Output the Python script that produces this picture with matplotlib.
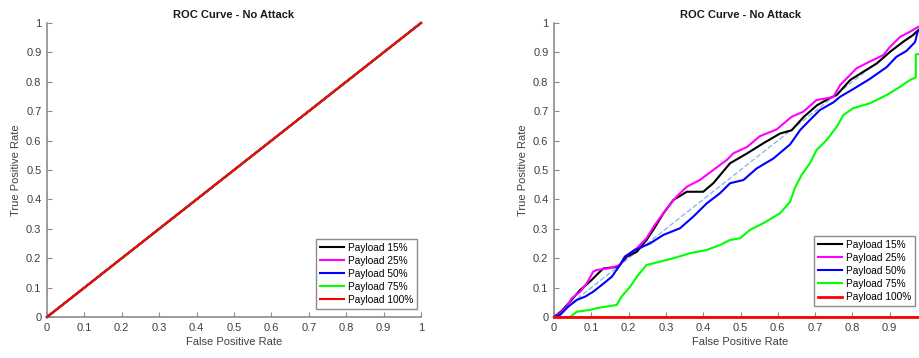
import matplotlib
matplotlib.use("Agg")
import matplotlib.pyplot as plt

plt.rcParams["font.family"] = ["Liberation Sans", "DejaVu Sans"]

labels = ["Payload 15%", "Payload 25%", "Payload 50%", "Payload 75%", "Payload 100%"]
colors = ["black", "#ff00ff", "#0000ff", "#00ff00", "#ff0000"]

# left panel: every curve lies on the diagonal
left_fpr = [0, 1]
left_tpr = [0, 1]

# right panel
fpr_15 = [0, 0.02, 0.043, 0.07, 0.096, 0.119, 0.132, 0.172, 0.195, 0.222, 0.248, 0.266,
          0.293, 0.32, 0.356, 0.4, 0.427, 0.472, 0.517, 0.56, 0.606, 0.637, 0.669, 0.705,
          0.74, 0.758, 0.794, 0.829, 0.865, 0.901, 0.936, 0.963, 0.977, 1]
tpr_15 = [0, 0.02, 0.052, 0.092, 0.12, 0.149, 0.165, 0.171, 0.205, 0.222, 0.262, 0.296,
          0.352, 0.398, 0.426, 0.426, 0.455, 0.523, 0.556, 0.59, 0.624, 0.635, 0.68, 0.72,
          0.745, 0.755, 0.806, 0.834, 0.862, 0.902, 0.936, 0.959, 0.976, 1]

fpr_25 = [0, 0.016, 0.034, 0.047, 0.07, 0.088, 0.105, 0.114, 0.15, 0.177, 0.19, 0.222,
          0.248, 0.27, 0.302, 0.329, 0.356, 0.391, 0.427, 0.463, 0.481, 0.517, 0.552,
          0.597, 0.637, 0.668, 0.704, 0.749, 0.767, 0.789, 0.811, 0.847, 0.883, 0.901,
          0.928, 0.954, 0.977, 1]
tpr_25 = [0, 0.012, 0.035, 0.063, 0.086, 0.115, 0.154, 0.16, 0.166, 0.177, 0.205, 0.234,
          0.268, 0.313, 0.369, 0.41, 0.443, 0.466, 0.5, 0.534, 0.557, 0.578, 0.615,
          0.638, 0.681, 0.698, 0.738, 0.748, 0.789, 0.817, 0.846, 0.869, 0.891, 0.919,
          0.953, 0.97, 0.987, 1]

fpr_50 = [0, 0.016, 0.038, 0.061, 0.083, 0.105, 0.128, 0.155, 0.177, 0.19, 0.217, 0.257,
          0.293, 0.338, 0.373, 0.41, 0.445, 0.472, 0.508, 0.543, 0.588, 0.633, 0.66,
          0.686, 0.713, 0.749, 0.767, 0.802, 0.847, 0.892, 0.918, 0.945, 0.968, 0.975, 1]
tpr_50 = [0, 0.007, 0.035, 0.058, 0.069, 0.086, 0.109, 0.137, 0.177, 0.205, 0.228, 0.25,
          0.279, 0.302, 0.341, 0.387, 0.421, 0.455, 0.466, 0.505, 0.539, 0.587, 0.636,
          0.67, 0.704, 0.73, 0.749, 0.775, 0.81, 0.85, 0.885, 0.905, 0.935, 0.97, 1]

fpr_75 = [0, 0.043, 0.061, 0.096, 0.114, 0.168, 0.181, 0.204, 0.222, 0.248, 0.284, 0.32,
          0.365, 0.409, 0.445, 0.472, 0.499, 0.525, 0.561, 0.606, 0.633, 0.646, 0.664,
          0.686, 0.704, 0.731, 0.758, 0.776, 0.802, 0.847, 0.892, 0.928, 0.954, 0.97,
          0.97, 0.985, 1]
tpr_75 = [0, 0, 0.018, 0.024, 0.03, 0.041, 0.069, 0.103, 0.137, 0.177, 0.188, 0.2,
          0.217, 0.228, 0.245, 0.262, 0.268, 0.296, 0.319, 0.353, 0.392, 0.44, 0.483,
          0.523, 0.568, 0.602, 0.647, 0.687, 0.71, 0.727, 0.755, 0.783, 0.806, 0.815,
          0.893, 0.895, 1]

fpr_100 = [0, 1]
tpr_100 = [0, 0]

right_fpr = [fpr_15, fpr_25, fpr_50, fpr_75, fpr_100]
right_tpr = [tpr_15, tpr_25, tpr_50, tpr_75, tpr_100]

ticks = [0, 0.1, 0.2, 0.3, 0.4, 0.5, 0.6, 0.7, 0.8, 0.9, 1]
tick_labels = ["0", "0.1", "0.2", "0.3", "0.4", "0.5", "0.6", "0.7", "0.8", "0.9", "1"]

fig = plt.figure(figsize=(9.2, 3.58), dpi=100)
ax1 = fig.add_axes([0.0511, 0.1145, 0.4065, 0.8213])
ax2 = fig.add_axes([0.6022, 0.1145, 0.4054, 0.8213])


def style(ax, legend_anchor, xlabels):
    ax.set_xlim(0, 1)
    ax.set_ylim(0, 1)
    ax.set_xticks(ticks)
    ax.set_xticklabels(xlabels)
    ax.set_yticks(ticks)
    ax.set_yticklabels(tick_labels)
    for side in ["top", "right"]:
        ax.spines[side].set_visible(False)
    for side in ["left", "bottom"]:
        ax.spines[side].set_color("#8c8c8c")
        ax.spines[side].set_linewidth(1.2)
    ax.tick_params(direction="in", length=3.5, width=0.8, color="#8c8c8c",
                   labelsize=8, labelcolor="#404040", pad=4)
    ax.set_title("ROC Curve - No Attack", fontsize=8, fontweight="bold",
                 color="#1a1a1a", pad=3.5)
    ax.set_xlabel("False Positive Rate", fontsize=8, color="#404040", labelpad=3)
    ax.set_ylabel("True Positive Rate", fontsize=8, color="#404040", labelpad=4)
    leg = ax.legend(loc="lower right", bbox_to_anchor=legend_anchor, fontsize=7.3,
                    frameon=True, fancybox=False, framealpha=1, borderaxespad=0,
                    handlelength=2.3, handletextpad=0.4, labelspacing=0.3,
                    borderpad=0.4)
    leg.get_frame().set_edgecolor("#8c8c8c")
    leg.get_frame().set_linewidth(1)


for lab, col in zip(labels, colors):
    ax1.plot(left_fpr, left_tpr, color=col, linewidth=1.5, label=lab,
             zorder=3, clip_on=False)
style(ax1, (0.989, 0.027), tick_labels)

# the right panel is cut off by the figure edge, so its "1" label is not shown
ax2.plot([0, 1], [0, 1], linestyle="--", color="#8dbbe3", linewidth=1)
for fx, ty, lab, col in zip(right_fpr, right_tpr, labels, colors):
    lw = 2 if col == "#ff0000" else 1.5
    ax2.plot(fx, ty, color=col, linewidth=lw, label=lab, zorder=3, clip_on=False)
style(ax2, (0.968, 0.037), tick_labels[:-1] + [""])

fig.savefig("out.png", dpi=100)
